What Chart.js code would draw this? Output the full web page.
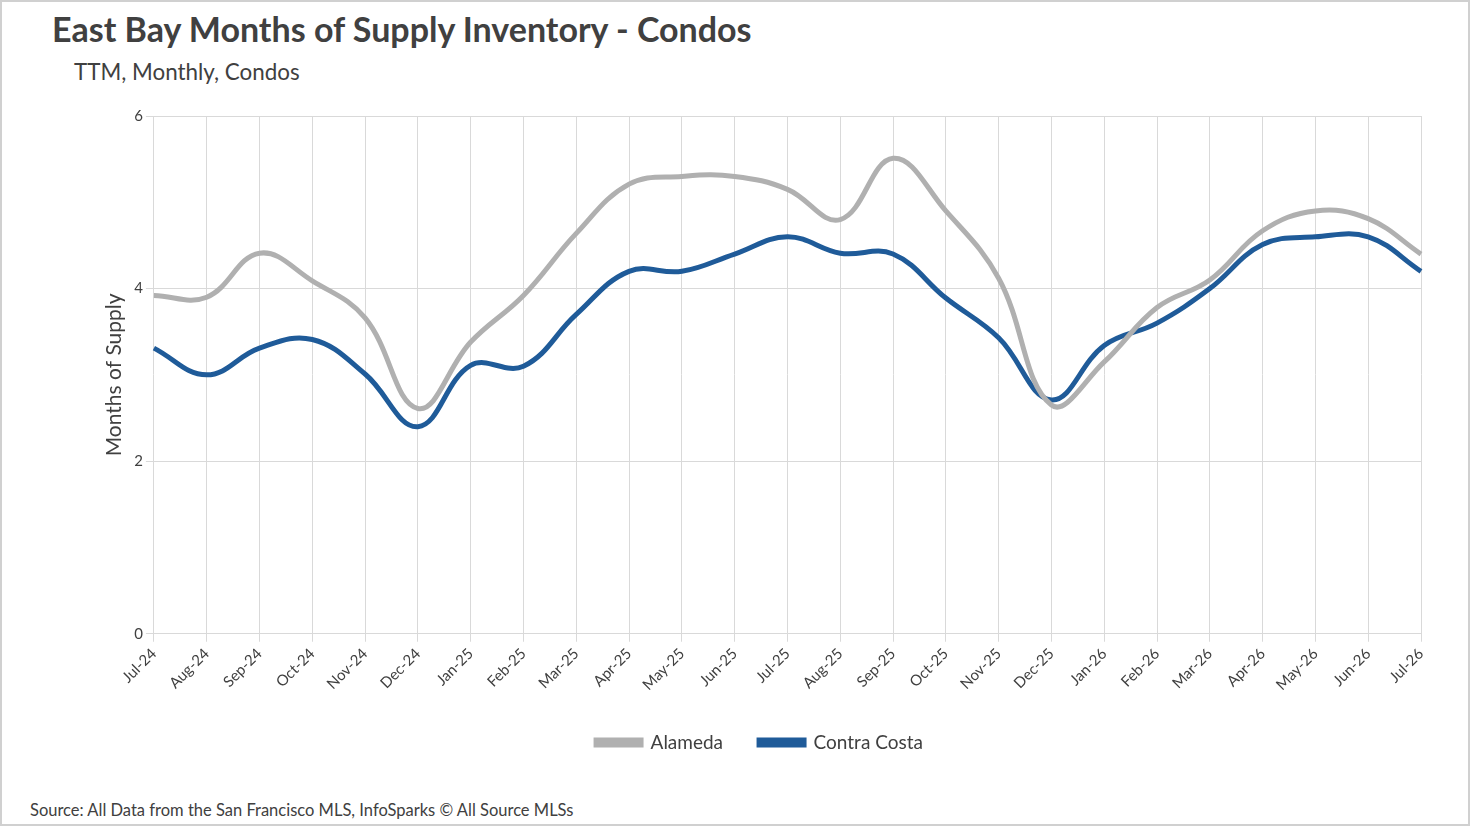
<!DOCTYPE html>
<html>
<head>
<meta charset="utf-8">
<script src="https://cdn.jsdelivr.net/npm/chart.js@4.4.1/dist/chart.umd.min.js"></script>
<style>
  body { margin: 0; background: #fff; font-family: Lato, sans-serif; }
  #frame { position: relative; width: 1466px; height: 822px; border: 2px solid #d0d0d0; overflow: hidden; }
  #title { position: absolute; left: 50px; top: 6px; font-size: 34px; font-weight: bold; color: #404040; }
  #subtitle { position: absolute; left: 72px; top: 56px; font-size: 22.4px; color: #404040; }
  #source { position: absolute; left: 28px; top: 798px; font-size: 16.5px; color: #404040; }
  #box { position: absolute; left: 0; top: 90px; width: 1466px; height: 700px; }
</style>
</head>
<body>
<div id="frame">
  <div id="title">East Bay Months of Supply Inventory - Condos</div>
  <div id="subtitle">TTM, Monthly, Condos</div>
  <div id="box"><canvas id="chart"></canvas></div>
  <div id="source">Source: All Data from the San Francisco MLS, InfoSparks © All Source MLSs</div>
</div>
<script>
const months = ['Jul-24','Aug-24','Sep-24','Oct-24','Nov-24','Dec-24','Jan-25','Feb-25','Mar-25','Apr-25','May-25','Jun-25','Jul-25','Aug-25','Sep-25','Oct-25','Nov-25','Dec-25','Jan-26','Feb-26','Mar-26','Apr-26','May-26','Jun-26','Jul-26'];
const alameda = [3.92, 3.9, 4.41, 4.09, 3.66, 2.61, 3.38, 3.92, 4.64, 5.21, 5.3, 5.3, 5.15, 4.8, 5.51, 4.9, 4.12, 2.65, 3.15, 3.78, 4.1, 4.67, 4.9, 4.81, 4.4];
const contraCosta = [3.31, 3.0, 3.31, 3.41, 3.01, 2.4, 3.11, 3.1, 3.7, 4.2, 4.2, 4.4, 4.6, 4.41, 4.4, 3.89, 3.43, 2.71, 3.34, 3.6, 4.0, 4.51, 4.6, 4.6, 4.2];
const yTicks = [0, 2, 4, 6];

new Chart(document.getElementById('chart'), {
    type: 'line',
    data: {
        labels: months,
        datasets: [
            { label: 'Alameda', data: alameda, borderColor: '#b0b0b0', backgroundColor: '#b0b0b0', borderWidth: 5, tension: 0.4, pointRadius: 0 },
            { label: 'Contra Costa', data: contraCosta, borderColor: '#1f5b99', backgroundColor: '#1f5b99', borderWidth: 5, tension: 0.4, pointRadius: 0 }
        ]
    },
    options: {
        responsive: true,
        maintainAspectRatio: false,
        animation: false,
        layout: { padding: { top: 24, right: 47, left: 96, bottom: 30 } },
        plugins: {
            tooltip: { enabled: false },
            legend: {
                position: 'bottom',
                labels: { boxWidth: 45, boxHeight: 5, padding: 36, color: '#404040', font: { family: 'Lato', size: 19 } }
            }
        },
        scales: {
            x: {
                grid: { color: '#d9d9d9', offset: false },
                border: { color: '#d9d9d9' },
                ticks: { maxRotation: 45, minRotation: 45, color: '#404040', font: { family: 'Lato', size: 15 } }
            },
            y: {
                min: 0, max: 6,
                afterBuildTicks: axis => { axis.ticks = yTicks.map(v => ({ value: v })); },
                grid: { color: '#d9d9d9' },
                border: { display: false },
                ticks: { color: '#404040', font: { family: 'Lato', size: 15 } },
                title: { display: true, text: 'Months of Supply', color: '#404040', font: { family: 'Lato', size: 21 } }
            }
        }
    }
});
</script>
</body>
</html>
